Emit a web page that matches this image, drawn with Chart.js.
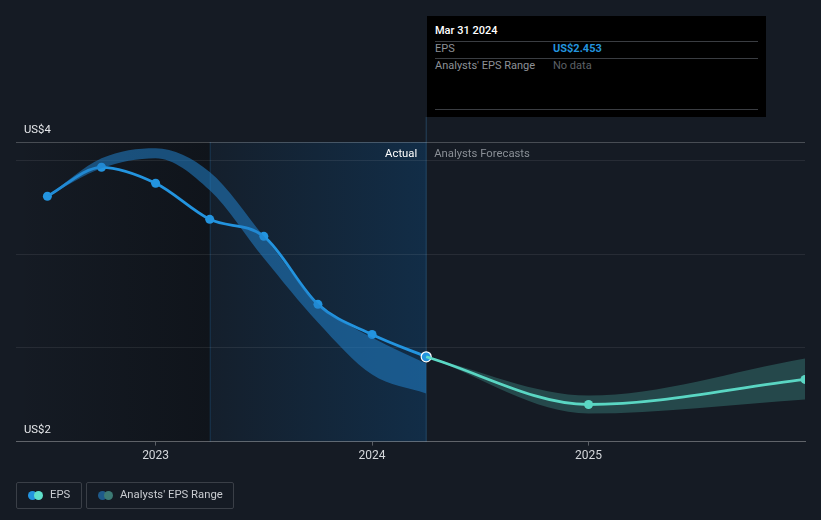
<!DOCTYPE html>
<html><head><meta charset="utf-8">
<script src="https://cdn.jsdelivr.net/npm/chart.js@4.4.0/dist/chart.umd.min.js"></script>
<style>
html,body{margin:0;padding:0;background:#151b24;}
#wrap{position:relative;width:821px;height:520px;font-family:Roboto,"Noto Sans",sans-serif;overflow:hidden;}
#c{position:absolute;left:0;top:0;}
#tip{position:absolute;left:427px;top:16px;width:339px;height:101px;background:#000;}
#tip .t{position:absolute;left:8px;top:8px;color:#fff;font-size:11px;font-weight:500;}
#tip .ln{position:absolute;left:8px;right:8px;height:1px;background:#3a3d42;}
#tip .k{position:absolute;left:8px;font-size:11px;color:#8d9197;}
#tip .v{position:absolute;left:126px;font-size:11px;}
.lg{position:absolute;top:482px;height:27px;border:1px solid #3a3f47;border-radius:2px;box-sizing:border-box;}
.lg .d{position:absolute;top:8px;width:9px;height:9px;border-radius:50%;}
.lg span{position:absolute;top:5px;font-size:11.3px;color:#c9ccd1;white-space:nowrap;}
</style></head>
<body>
<div id="wrap">
<canvas id="c" width="821" height="520"></canvas>
<div id="tip">
  <div class="t">Mar 31 2024</div>
  <div class="ln" style="top:25px"></div>
  <div class="k" style="top:26px">EPS</div>
  <div class="v" style="top:26px;color:#2394df;font-weight:700">US$2.453</div>
  <div class="ln" style="top:42px"></div>
  <div class="k" style="top:43px">Analysts' EPS Range</div>
  <div class="v" style="top:43px;color:#5d6167">No data</div>
  <div class="ln" style="top:93px"></div>
</div>
<div class="lg" style="left:16px;width:66px">
  <div class="d" style="left:11px;background:#2394df"></div>
  <div class="d" style="left:17px;background:#5fe0cb"></div>
  <span style="left:33px">EPS</span>
</div>
<div class="lg" style="left:86px;width:148px">
  <div class="d" style="left:11px;background:#1e5a8a"></div>
  <div class="d" style="left:17px;background:#3c7a74"></div>
  <span style="left:33px">Analysts' EPS Range</span>
</div>
</div>
<script>
// ---- data ----
const epsX = [2022.5, 2022.75, 2023.0, 2023.25, 2023.5, 2023.75, 2024.0, 2024.25];
const epsVals = [3.31, 3.465, 3.38, 3.187, 3.096, 2.733, 2.572, 2.453];
const rangeHigh = [3.31, 3.513, 3.567, 3.44, 3.096, 2.738, 2.556, 2.417];
const rangeLow = [3.31, 3.46, 3.513, 3.342, 2.979, 2.636, 2.358, 2.257];
const fcX = [2024.25, 2025.0, 2026.0];
const fcVals = [2.453, 2.198, 2.332];
const fcHigh = [2.453, 2.246, 2.444];
const fcLow = [2.453, 2.15, 2.225];
const yearTicks = [2023, 2024, 2025];
const gridVals = [2.0, 2.5, 3.0, 3.5, 3.6];
const yLabels = ["US$4", "US$2"];
const pastStart = 2023.25, nowX = 2024.25;

const pts = (xs, ys) => xs.map((x, i) => ({x: x, y: ys[i]}));

const bgPlugin = {
  id: 'bg',
  beforeDraw(chart) {
    const {ctx, chartArea: a, scales: {x}} = chart;
    ctx.save();
    ctx.fillStyle = '#151b24';
    ctx.fillRect(0, 0, chart.width, chart.height);
    const xp = x.getPixelForValue(pastStart), xn = x.getPixelForValue(nowX);
    let g = ctx.createLinearGradient(a.left, 0, xp, 0);
    g.addColorStop(0, 'rgba(5,7,10,0.0)');
    g.addColorStop(1, 'rgba(5,7,10,0.35)');
    ctx.fillStyle = g;
    ctx.fillRect(a.left, a.top, xp - a.left, a.bottom - a.top);
    g = ctx.createLinearGradient(xp, 0, xn, 0);
    g.addColorStop(0, 'rgba(15,60,100,0.12)');
    g.addColorStop(1, 'rgba(15,60,100,0.55)');
    ctx.fillStyle = g;
    ctx.fillRect(xp, a.top, xn - xp, a.bottom - a.top);
    ctx.fillStyle = 'rgba(35,120,190,0.25)';
    ctx.fillRect(xp, a.top, 1, a.bottom - a.top);
    ctx.fillStyle = 'rgba(50,100,140,0.55)';
    ctx.fillRect(xn - 0.5, 117, 1, a.bottom - 117);
    ctx.restore();
  },
  afterDraw(chart) {
    const {ctx, chartArea: a, scales: {x}} = chart;
    const xn = x.getPixelForValue(nowX);
    ctx.save();
    ctx.font = '11.3px Roboto, "Noto Sans", sans-serif';
    ctx.textBaseline = 'middle';
    ctx.fillStyle = '#e6e8eb';
    ctx.textAlign = 'left';
    ctx.fillText(yLabels[0], 24, a.top - 12);
    ctx.fillText(yLabels[1], 24, a.bottom - 11);
    ctx.textAlign = 'right';
    ctx.fillStyle = '#ffffff';
    ctx.fillText('Actual', xn - 9, a.top + 12);
    ctx.textAlign = 'left';
    ctx.fillStyle = '#8a8f96';
    ctx.fillText('Analysts Forecasts', xn + 8, a.top + 12);
    ctx.restore();
  }
};

const lineCommon = {cubicInterpolationMode: 'monotone', pointRadius: 0, pointHoverRadius: 0};

new Chart(document.getElementById('c'), {
  type: 'line',
  data: {
    datasets: [
      Object.assign({data: pts(epsX, rangeHigh), borderWidth: 0, borderColor: 'transparent',
        backgroundColor: 'rgba(33,128,200,0.55)', fill: '+1'}, lineCommon),
      Object.assign({data: pts(epsX, rangeLow), borderWidth: 0, borderColor: 'transparent', fill: false}, lineCommon),
      Object.assign({data: pts(fcX, fcHigh), borderWidth: 0, borderColor: 'transparent',
        backgroundColor: 'rgba(80,190,175,0.28)', fill: '+1'}, lineCommon),
      Object.assign({data: pts(fcX, fcLow), borderWidth: 0, borderColor: 'transparent', fill: false}, lineCommon),
      {data: pts(fcX, fcVals), borderColor: '#5fe0cb', borderWidth: 2.8, fill: false,
        cubicInterpolationMode: 'monotone', pointBackgroundColor: '#5fe0cb', pointBorderWidth: 0,
        pointRadius: [0, 4.5, 4.5], pointHoverRadius: 0},
      {data: pts(epsX, epsVals), borderColor: '#2394df', borderWidth: 2.8, fill: false,
        cubicInterpolationMode: 'monotone', pointBackgroundColor: '#2394df',
        pointBorderColor: epsX.map((v, i) => i === epsX.length - 1 ? '#ffffff' : '#2394df'),
        pointBorderWidth: epsX.map((v, i) => i === epsX.length - 1 ? 1.2 : 0),
        pointRadius: epsX.map((v, i) => i === epsX.length - 1 ? 5 : 4.5), pointHoverRadius: 0}
    ]
  },
  options: {
    responsive: false, animation: false, devicePixelRatio: 1,
    layout: {padding: {left: 16, right: 16, top: 142, bottom: 54}},
    plugins: {legend: {display: false}, tooltip: {enabled: false}},
    events: [],
    scales: {
      x: {
        type: 'linear', min: 2022.355, max: 2026.0,
        afterBuildTicks: s => { s.ticks = yearTicks.map(v => ({value: v})); },
        ticks: {color: '#d4d7db', font: {size: 12, family: 'Roboto'}, padding: 3,
          callback: v => String(v), maxRotation: 0, autoSkip: false},
        grid: {drawOnChartArea: false, drawTicks: true, tickLength: 4, color: 'rgba(255,255,255,0.3)'},
        border: {display: true, color: 'rgba(255,255,255,0.32)', width: 1}
      },
      y: {
        min: 2.0, max: 3.6,
        afterBuildTicks: s => { s.ticks = gridVals.map(v => ({value: v})); },
        ticks: {display: false},
        grid: {drawTicks: false, color: c => c.tick.value === 2.0 ? 'rgba(0,0,0,0)' :
          (c.tick.value === 3.6 ? 'rgba(255,255,255,0.22)' : 'rgba(255,255,255,0.08)')},
        border: {display: false}
      }
    }
  },
  plugins: [bgPlugin]
});
</script>
</body></html>
